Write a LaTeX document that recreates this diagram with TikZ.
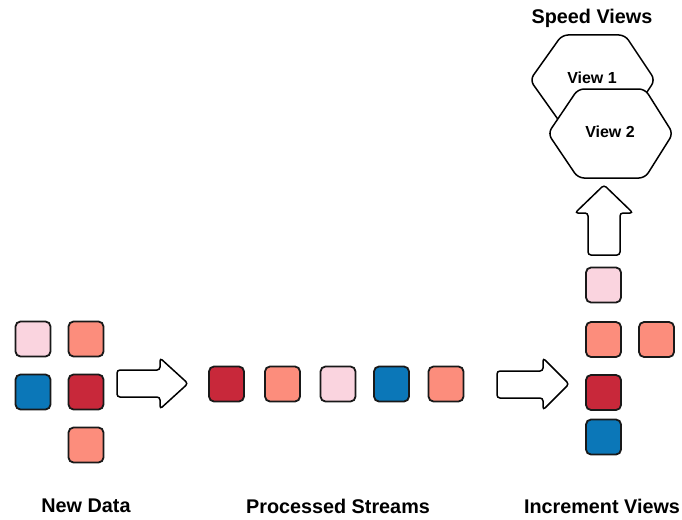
\documentclass[tikz,border=0pt]{standalone}
\usepackage{fontspec}
\setmainfont{Liberation Sans}
\begin{document}
\begin{tikzpicture}[x=1pt,y=-1pt,
  cell/.style={draw=black!90,line width=1.8pt,rounded corners=5pt,minimum size=35pt,inner sep=0pt},
  pinkc/.style={cell,fill=pinkfill},
  salmonc/.style={cell,fill=salmonfill},
  redc/.style={cell,fill=redfill},
  bluec/.style={cell,fill=bluefill},
  blockarrow/.style={draw=black,line width=1.5pt,fill=white,rounded corners=3pt},
  hexa/.style={draw=black,line width=1.5pt,fill=white,rounded corners=6pt},
  caption/.style={font=\bfseries\fontsize{19.8}{22}\selectfont},
  viewtext/.style={font=\bfseries\fontsize{16}{18}\selectfont}]
\definecolor{pinkfill}{RGB}{250,212,223}
\definecolor{salmonfill}{RGB}{252,141,124}
\definecolor{redfill}{RGB}{200,40,58}
\definecolor{bluefill}{RGB}{11,119,184}
\useasboundingbox (0,0) rectangle (682,519);

% incoming data
\node[pinkc]   (n1) at (33,339) {};
\node[salmonc] (n2) at (86,339) {};
\node[bluec]   (n3) at (33,392) {};
\node[redc]    (n4) at (86,392) {};
\node[salmonc] (n5) at (86,445) {};

% processed streams
\node[redc]    (p1) at (226.5,384) {};
\node[salmonc] (p2) at (282.5,384) {};
\node[pinkc]   (p3) at (338,384) {};
\node[bluec]   (p4) at (391.5,384) {};
\node[salmonc] (p5) at (446,384) {};

% increment views
\node[pinkc]   (i1) at (603.5,285) {};
\node[salmonc] (i2) at (603.5,339.5) {};
\node[salmonc] (i3) at (656.5,339.5) {};
\node[redc]    (i4) at (603.5,392.5) {};
\node[bluec]   (i5) at (603.5,437) {};

% block arrows
\draw[blockarrow] (117,370) -- (160,370) -- (160,358) -- (188,383.5)
  -- (160,409) -- (160,397) -- (117,397) -- cycle;
\draw[blockarrow] (497,371) -- (543,371) -- (543,358) -- (569,384)
  -- (543,410) -- (543,398) -- (497,398) -- cycle;
\draw[blockarrow] (588,255) -- (588,213) -- (575,213) -- (604,185)
  -- (633,213) -- (620,213) -- (620,255) -- cycle;

% speed views
\draw[hexa] (530,80) -- (562,35) -- (625,35) -- (655,80) -- (625,125) -- (562,125) -- cycle;
\node[viewtext] (v1) at (592,78) {View 1};
\draw[hexa] (548,133.5) -- (578,89) -- (645,89) -- (673,133.5) -- (645,178) -- (578,178) -- cycle;
\node[viewtext] (v2) at (610,132) {View 2};

% captions
\node[caption] (t0) at (592,18) {Speed Views};
\node[caption] (t1) at (86,506) {New Data};
\node[caption] (t2) at (338,506) {Processed Streams};
\node[caption] (t3) at (602,506) {Increment Views};
\end{tikzpicture}
\end{document}
